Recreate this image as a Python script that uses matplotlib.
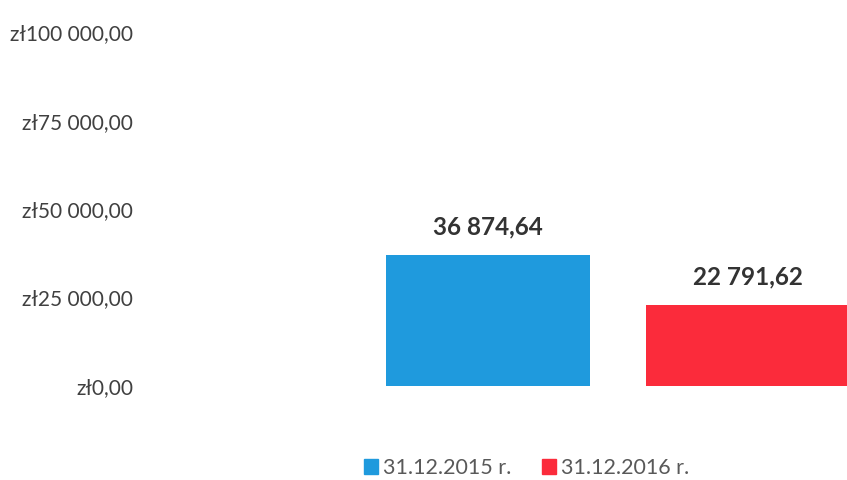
import matplotlib.pyplot as plt
import numpy as np

series = ["31.12.2015 r.", "31.12.2016 r."]
values = [36874.64, 22791.62]
value_labels = ["36 874,64", "22 791,62"]
colors = ["#1F9ADD", "#FB2B3B"]
yticks = [0, 25000, 50000, 75000, 100000]
ytick_labels = ["zł0,00", "zł25 000,00", "zł50 000,00", "zł75 000,00", "zł100 000,00"]

plt.rcParams["font.family"] = ["Lato", "DejaVu Sans"]

fig = plt.figure(figsize=(8.47, 4.8), dpi=100)
ax = fig.add_axes([0.177, 0.196, 0.823, 0.737])

x = np.arange(len(series))
bars = ax.bar(x, values, width=0.785, color=colors, label=series)
for xi, v, lab in zip(x, values, value_labels):
    ax.text(xi, v + 4800, lab, ha="center", va="bottom", fontsize=17.5,
            fontweight="bold", color="#333333")

ax.set_xlim(-1.3, 1.381)
ax.set_ylim(0, 100000)
ax.set_yticks(yticks)
ax.set_yticklabels(ytick_labels, fontsize=15, color="#404040")
ax.tick_params(axis="y", length=0, pad=12)
ax.set_xticks([])
for s in ax.spines.values():
    s.set_visible(False)

handles = [plt.Rectangle((0, 0), 1, 1, color=c) for c in colors]
fig.legend(handles, series, loc="center", bbox_to_anchor=(0.622, 0.025),
           ncol=2, frameon=False, fontsize=15.5, handlelength=0.65, handleheight=0.65,
           handletextpad=0.25, columnspacing=1.4, labelcolor="#595959")

fig.savefig("out.png", dpi=100, facecolor="white")
